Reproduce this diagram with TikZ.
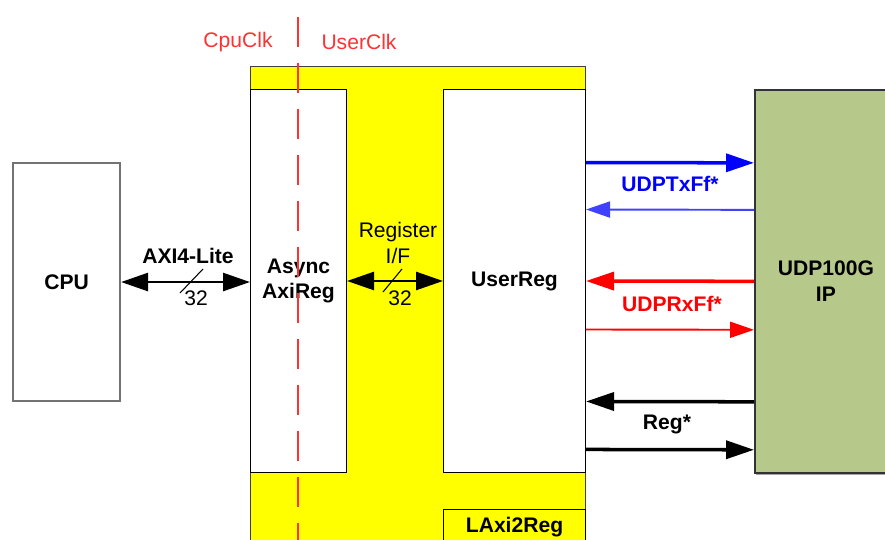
\documentclass[tikz,border=0pt]{standalone}
\usepackage{fontspec}
\setmainfont{Liberation Sans}
\usetikzlibrary{arrows.meta, shadows}
\definecolor{udpgreen}{RGB}{183,201,138}
\definecolor{clkred}{RGB}{255,50,50}
\definecolor{blockyellow}{RGB}{255,255,0}
\tikzstyle{block} = [rectangle, anchor=north west, inner sep=0pt, align=center, draw=black, fill=white, line width=0.6pt, font=\fontsize{12}{14.5}\selectfont\bfseries]
\tikzstyle{sigtext} = [font=\fontsize{12}{14.5}\selectfont\bfseries, align=center]
\tikzstyle{plaintext} = [font=\fontsize{12}{14.5}\selectfont, align=center]
\tikzstyle{thickarrow} = [line width=2pt, -{Triangle[length=5.6mm,width=3.6mm]}]
\tikzstyle{thinarrow} = [line width=1.1pt, -{Triangle[length=4.8mm,width=3.2mm]}]
\tikzstyle{busarrow} = [line width=1.5pt, {Triangle[length=5.4mm,width=3.6mm]}-{Triangle[length=5.4mm,width=3.6mm]}]
\tikzstyle{clkline} = [draw=clkred, line width=1.1pt, dash pattern=on 0.6cm off 0.32cm]
\begin{document}
\begin{tikzpicture}[x=0.02cm, y=-0.02cm]
\useasboundingbox (0,0) rectangle (885,540);

\node (laxi) [block, fill=blockyellow, draw=black!75, line width=0.8pt, minimum width=6.7cm, minimum height=9.7cm] at (250,66) {};
\node (axireg) [block, minimum width=1.92cm, minimum height=7.66cm] at (250,89) {Async\\AxiReg};
\node (userreg) [block, minimum width=2.84cm, minimum height=7.66cm] at (443,89) {UserReg};
\node (laxiname) [block, fill=blockyellow, minimum width=2.84cm, minimum height=0.72cm] at (443,509) {LAxi2Reg};
\node (cpu) [block, draw=black!55, line width=1.2pt, minimum width=2.14cm, minimum height=4.76cm] at (12,162) {CPU};
\node (udp) [block, fill=udpgreen, draw=black!80, line width=1pt, drop shadow={shadow xshift=0.8pt, shadow yshift=-1pt, fill=black!70}, minimum width=2.84cm, minimum height=7.66cm] at (754,89) {UDP100G\\IP};

\draw [busarrow] (cpu.east) -- (cpu.east -| axireg.west);
\draw [line width=0.6pt] (180,293) -- (203,269);
\node (axiname) [sigtext] at (188,256) {AXI4-Lite};
\node (axiwidth) [plaintext] at (196,298) {32};

\draw [busarrow] (axireg.east) -- (userreg.west);
\draw [line width=0.6pt] (383,292) -- (402,269);
\node (regif) [plaintext] at (398,243) {Register\\I/F};
\node (regwidth) [plaintext] at (400,298) {32};

\draw [thickarrow, blue] ([yshift=2.37cm]userreg.east) -- ([yshift=2.37cm]udp.west);
\draw [thinarrow, blue!75] ([yshift=1.43cm]udp.west) -- ([yshift=1.43cm]userreg.east);
\node (txname) [sigtext, text=blue] at (670,184) {UDPTxFf*};

\draw [thickarrow, red] (udp.west) -- (userreg.east);
\draw [thinarrow, red] ([yshift=-0.97cm]userreg.east) -- ([yshift=-0.97cm]udp.west);
\node (rxname) [sigtext, text=red] at (672,304) {UDPRxFf*};

\draw [thickarrow, black] ([yshift=-2.41cm]udp.west) -- ([yshift=-2.41cm]userreg.east);
\draw [thickarrow, black] ([yshift=-3.37cm]userreg.east) -- ([yshift=-3.37cm]udp.west);
\node (regname) [sigtext] at (667,424) {Reg*};

\coordinate (clktop) at (298,17);
\coordinate (clkbot) at (298,545);
\draw [clkline] (clktop) -- (clkbot);
\node (cpuclk) [plaintext, text=clkred] at (238,42) {CpuClk};
\node (userclk) [plaintext, text=clkred] at (359,42) {UserClk};
\end{tikzpicture}
\end{document}
